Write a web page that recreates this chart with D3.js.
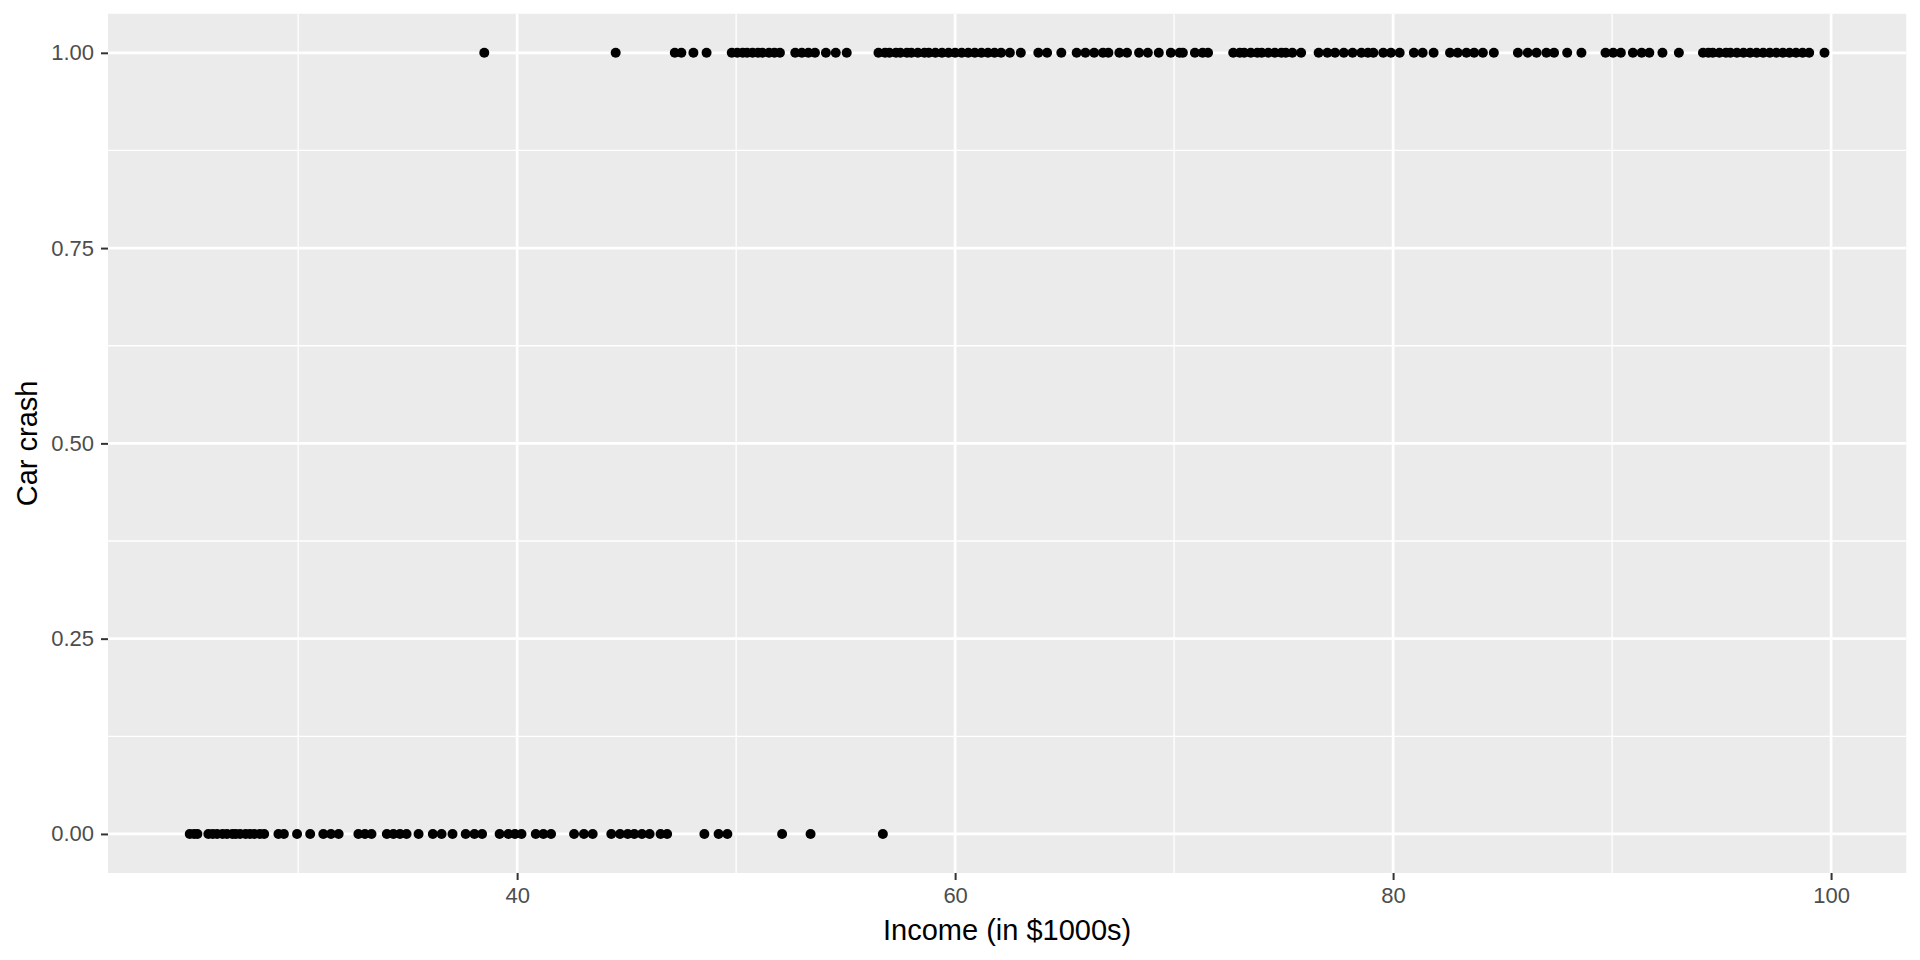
<!DOCTYPE html>
<html>
<head>
<meta charset="utf-8">
<script src="https://cdn.jsdelivr.net/npm/d3@7"></script>
<style>
  body { margin: 0; background: #fff; }
  text { font-family: "Liberation Sans", Arial, sans-serif; }
</style>
</head>
<body>
<svg class="chart" width="1920" height="960"></svg>
<script>
// incomes (in $1000s) of people with no crash (0) and a crash (1)
var income0 = [25.05, 25.25, 25.4, 25.9, 26.1, 26.3, 26.55, 26.75, 27.0, 27.15, 27.35, 27.6, 27.8, 28.0, 28.25, 28.45,
  29.1, 29.35, 29.95, 30.55, 31.15, 31.5, 31.85, 32.75, 33.05, 33.35, 34.05, 34.35, 34.65, 34.95, 35.5,
  36.15, 36.55, 37.05, 37.65, 38.05, 38.4, 39.2, 39.6, 39.9, 40.2, 40.85, 41.2, 41.55, 42.6, 43.05, 43.45,
  44.3, 44.7, 45.05, 45.35, 45.7, 46.05, 46.55, 46.85, 48.55, 49.2, 49.6, 52.1, 53.4, 56.7];
var income1 = [38.5, 44.5, 47.2, 47.5, 48.05, 48.65, 49.8, 50.05, 50.3, 50.5, 50.75, 51.0, 51.2, 51.5, 51.75, 52.0,
  52.7, 53.0, 53.3, 53.6, 54.1, 54.55, 55.05, 56.5, 56.8, 57.0, 57.3, 57.5, 57.8, 58.0, 58.3, 58.6, 58.8,
  59.1, 59.4, 59.7, 60.0, 60.3, 60.6, 60.9, 61.2, 61.5, 61.8, 62.1, 62.5, 63.0, 63.8, 64.2, 64.85, 65.55,
  65.95, 66.35, 66.75, 67.0, 67.5, 67.85, 68.4, 68.8, 69.3, 69.85, 70.25, 70.4, 70.95, 71.3, 71.55, 72.7,
  73.0, 73.2, 73.5, 73.8, 74.0, 74.3, 74.6, 74.9, 75.1, 75.4, 75.8, 76.6, 77.0, 77.35, 77.75, 78.15, 78.55,
  78.85, 79.1, 79.55, 79.9, 80.3, 80.95, 81.35, 81.85, 82.6, 82.95, 83.35, 83.7, 84.1, 84.6, 85.7, 86.15,
  86.55, 87.0, 87.35, 87.95, 88.6, 89.7, 90.05, 90.4, 90.95, 91.35, 91.7, 92.3, 93.05, 94.15, 94.4, 94.6,
  94.9, 95.2, 95.4, 95.7, 96.0, 96.3, 96.6, 96.9, 97.2, 97.5, 97.8, 98.1, 98.4, 98.7, 99.0, 99.7];

var xTicks = [40, 60, 80, 100];
var xMinor = [30, 50, 70, 90];
var yTicks = [0, 0.25, 0.5, 0.75, 1];
var yMinor = [0.125, 0.375, 0.625, 0.875];
var yLabels = ["0.00", "0.25", "0.50", "0.75", "1.00"];

var points = income0.map(function (v) { return {x: v, y: 0}; })
  .concat(income1.map(function (v) { return {x: v, y: 1}; }));

var svg = d3.select(".chart"),
    width = +svg.attr("width"),
    height = +svg.attr("height");
var margin = {top: 13.75, right: 13.75, bottom: 87, left: 108};

// ggplot-style 5% expansion
var ext = d3.extent(points, function (d) { return d.x; });
var pad = (ext[1] - ext[0]) * 0.05;
var x = d3.scaleLinear()
  .domain([ext[0] - pad, ext[1] + pad])
  .range([margin.left, width - margin.right]);
var y = d3.scaleLinear()
  .domain([-0.05, 1.05])
  .range([height - margin.bottom, margin.top]);

svg.append("rect")
  .attr("x", margin.left)
  .attr("y", margin.top)
  .attr("width", width - margin.left - margin.right)
  .attr("height", height - margin.top - margin.bottom)
  .attr("fill", "#ebebeb");

var grid = svg.append("g").attr("class", "grid");
grid.selectAll(".xminor").data(xMinor).enter().append("line")
  .attr("x1", x).attr("x2", x)
  .attr("y1", margin.top).attr("y2", height - margin.bottom)
  .attr("stroke", "#fff").attr("stroke-width", 1.3);
grid.selectAll(".yminor").data(yMinor).enter().append("line")
  .attr("y1", y).attr("y2", y)
  .attr("x1", margin.left).attr("x2", width - margin.right)
  .attr("stroke", "#fff").attr("stroke-width", 1.3);
grid.selectAll(".xmajor").data(xTicks).enter().append("line")
  .attr("x1", x).attr("x2", x)
  .attr("y1", margin.top).attr("y2", height - margin.bottom)
  .attr("stroke", "#fff").attr("stroke-width", 2.7);
grid.selectAll(".ymajor").data(yTicks).enter().append("line")
  .attr("y1", y).attr("y2", y)
  .attr("x1", margin.left).attr("x2", width - margin.right)
  .attr("stroke", "#fff").attr("stroke-width", 2.7);

// axes
var xAxis = svg.append("g")
  .attr("transform", "translate(0," + (height - margin.bottom) + ")")
  .call(d3.axisBottom(x).tickValues(xTicks).tickSize(7).tickPadding(7).tickFormat(d3.format("d")));
var yAxis = svg.append("g")
  .attr("transform", "translate(" + margin.left + ",0)")
  .call(d3.axisLeft(y).tickValues(yTicks).tickSize(7).tickPadding(7)
    .tickFormat(function (d, i) { return yLabels[i]; }));

[xAxis, yAxis].forEach(function (a) {
  a.select(".domain").remove();
  a.selectAll(".tick line").attr("stroke", "#333").attr("stroke-width", 2);
  a.selectAll(".tick text")
    .attr("fill", "#4d4d4d")
    .style("font-family", "'Liberation Sans', Arial, sans-serif")
    .style("font-size", "22px");
});

svg.append("g")
  .selectAll("circle")
  .data(points)
  .enter().append("circle")
  .attr("cx", function (d) { return x(d.x); })
  .attr("cy", function (d) { return y(d.y); })
  .attr("r", 5)
  .attr("fill", "#000");

svg.append("text")
  .attr("x", (margin.left + width - margin.right) / 2)
  .attr("y", 940)
  .attr("text-anchor", "middle")
  .style("font-size", "29px")
  .text("Income (in $1000s)");

svg.append("text")
  .attr("transform", "translate(37," + ((margin.top + height - margin.bottom) / 2) + ") rotate(-90)")
  .attr("text-anchor", "middle")
  .style("font-size", "29px")
  .text("Car crash");
</script>
</body>
</html>
